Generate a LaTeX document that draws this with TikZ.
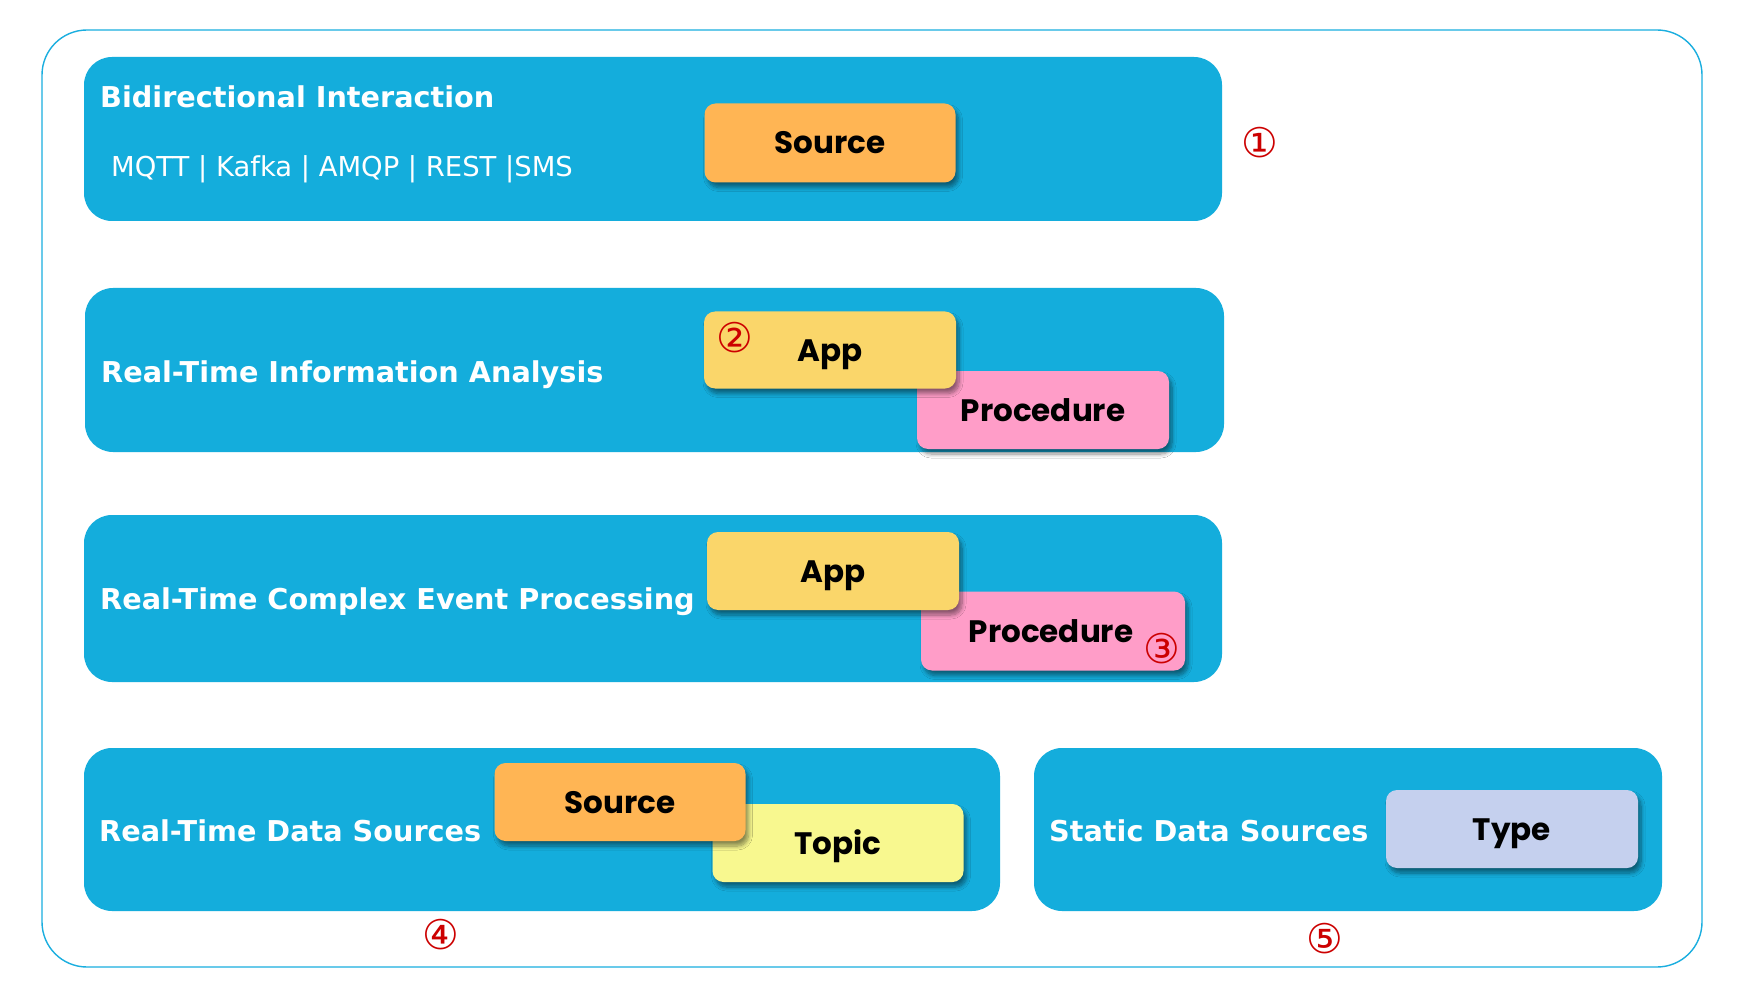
\documentclass[tikz,border=0pt]{standalone}
\usepackage{fontspec}
\usetikzlibrary{shadows,shadows.blur}
\newfontfamily\dejavu{DejaVu Sans}
\newfontfamily\popfont{Poppins}
\definecolor{bluebox}{RGB}{20,173,220}
\definecolor{framec}{RGB}{26,174,223}
\definecolor{orangec}{RGB}{255,181,84}
\definecolor{appc}{RGB}{250,214,106}
\definecolor{pinkc}{RGB}{255,157,200}
\definecolor{topicc}{RGB}{248,248,143}
\definecolor{typec}{RGB}{197,208,238}
\definecolor{numc}{RGB}{204,0,0}
\tikzset{
  panel/.style={fill=bluebox, rounded corners=28pt},
  lbl/.style={rounded corners=11pt, minimum width=252pt, minimum height=78pt, inner sep=0pt,
    text height=22pt, text depth=0pt,
    font=\popfont\bfseries\fontsize{31}{36}\selectfont, text=black,
    blur shadow={shadow xshift=3pt, shadow yshift=-5pt, shadow blur steps=8, shadow blur radius=4pt, shadow opacity=45}},
  ttl/.style={anchor=base west, inner sep=0pt, text=white, font=\dejavu\bfseries\fontsize{28.7}{34}\selectfont},
  sub/.style={anchor=base west, inner sep=0pt, text=white, font=\dejavu\fontsize{27.4}{32}\selectfont},
  num/.style={inner sep=0pt, text=numc, font=\dejavu\fontsize{41}{44}\selectfont}
}
\begin{document}
\begin{tikzpicture}[x=1pt,y=-1pt]
\useasboundingbox (0,0) rectangle (1748,1008);
\fill[white] (0,0) rectangle (1748,1008);
\draw[framec, line width=1.4pt, rounded corners=45pt] (42,30) rectangle (1702,967);
% panels
\fill[panel] (84,57) rectangle (1222,221);
\fill[panel] (85,288) rectangle (1224,452);
\fill[panel] (84,515) rectangle (1222,682);
\fill[panel] (84,748) rectangle (1000,911);
\fill[panel] (1034,748) rectangle (1662,911);
% titles
\node[ttl] (t1) at (100,108) {Bidirectional Interaction};
\node[sub] (s1) at (111,177) {MQTT | Kafka | AMQP | REST |SMS};
\node[ttl] (t2) at (101,382) {Real-Time Information Analysis};
\node[ttl] (t3) at (100,609) {Real-Time Complex Event Processing};
\node[ttl] (t4) at (99,841) {Real-Time Data Sources};
\node[ttl] (t5) at (1049,841) {Static Data Sources};
% label boxes
\node[lbl, fill=orangec, minimum width=251pt, minimum height=79pt] (src1) at (830,143) {Source};
\node[lbl, fill=pinkc] (proc2) at (1043,410) {Procedure};
\node[lbl, fill=appc, minimum height=77pt] (app2) at (830,350) {App};
\node[lbl, fill=pinkc, minimum width=264pt, minimum height=79pt] (proc3) at (1053,631) {\hspace*{-2pt}Procedure\hspace*{2pt}};
\node[lbl, fill=appc] (app3) at (833,571) {App};
\node[lbl, fill=topicc, minimum width=251pt] (topic4) at (838,843) {Topic};
\node[lbl, fill=orangec, minimum width=251pt] (src4) at (620,802) {Source};
\node[lbl, fill=typec] (type5) at (1512,829) {Type};
% numbers
\node[num] (n1) at (1260,143) {①};
\node[num] (n2) at (735,338) {②};
\node[num] (n3) at (1162,649) {③};
\node[num] (n4) at (441,935) {④};
\node[num] (n5) at (1325,939) {⑤};
\end{tikzpicture}
\end{document}
